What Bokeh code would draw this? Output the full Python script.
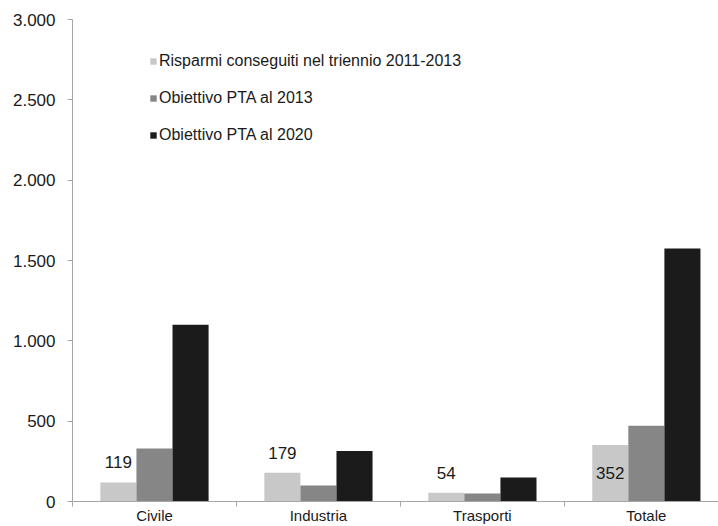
from bokeh.plotting import figure
from bokeh.models import (Range1d, FixedTicker, Legend, LegendItem, ColumnDataSource)
from bokeh.core.properties import value
from bokeh.embed import file_html
from bokeh.resources import INLINE

categories = ["Civile", "Industria", "Trasporti", "Totale"]
series_names = ["Risparmi conseguiti nel triennio 2011-2013",
                "Obiettivo PTA al 2013",
                "Obiettivo PTA al 2020"]
risparmi_2011_2013 = [119, 179, 54, 352]
obiettivo_2013 = [330, 100, 50, 472]
obiettivo_2020 = [1100, 315, 150, 1575]
y_ticks = [0, 500, 1000, 1500, 2000, 2500, 3000]
y_tick_labels = ["0", "500", "1.000", "1.500", "2.000", "2.500", "3.000"]
data_labels = ["119", "179", "54", "352"]

colors = ["#c8c8c8", "#868686", "#1b1b1b"]
label_dy = [-20, -20, -20, 28]
FONT = "Liberation Sans"

cat_pos = [i + 1 for i in range(len(categories))]
bar_w = 0.22
offsets = [-bar_w, 0.0, bar_w]

p = figure(width=718, height=526, output_backend="svg", toolbar_location=None,
           x_range=Range1d(0.5, 4.44), y_range=Range1d(0, 3000),
           min_border_left=72, min_border_right=0, min_border_top=19, min_border_bottom=23)
p.outline_line_color = None
p.xgrid.visible = False
p.ygrid.visible = False
p.background_fill_color = "white"
p.border_fill_color = "white"

renderers = []
for vals, off, col in zip([risparmi_2011_2013, obiettivo_2013, obiettivo_2020], offsets, colors):
    src = ColumnDataSource(dict(x=[c + off for c in cat_pos], top=vals))
    r = p.vbar(x="x", top="top", bottom=0, width=bar_w, source=src,
               fill_color=col, line_color=None)
    renderers.append(r)

lsrc = ColumnDataSource(dict(x=[c + offsets[0] for c in cat_pos], y=risparmi_2011_2013,
                             t=data_labels, dy=label_dy))
p.text(x="x", y="y", text="t", y_offset="dy", source=lsrc, text_align="center",
       text_baseline="middle", text_font=value(FONT), text_font_size="17px",
       text_color="#1a1a1a")

# axes
xa = p.xaxis[0]
xa.ticker = FixedTicker(ticks=cat_pos, minor_ticks=[c - 0.5 for c in cat_pos])
xa.major_label_overrides = {c: n for c, n in zip(cat_pos, categories)}
xa.major_tick_out = 0
xa.major_tick_in = 0
xa.minor_tick_out = 5
xa.minor_tick_in = 0
xa.minor_tick_line_color = "#a6a6a6"
xa.axis_line_color = "#a6a6a6"
xa.major_label_standoff = 0
xa.major_label_text_font = FONT
xa.major_label_text_font_size = "15px"
xa.major_label_text_color = "#1a1a1a"

ya = p.yaxis[0]
ya.ticker = FixedTicker(ticks=y_ticks, minor_ticks=[])
ya.major_label_overrides = {t: l for t, l in zip(y_ticks, y_tick_labels)}
ya.major_tick_out = 5
ya.major_tick_in = 0
ya.major_tick_line_color = "#a6a6a6"
ya.axis_line_color = "#a6a6a6"
ya.major_label_standoff = 12
ya.major_label_text_font = FONT
ya.major_label_text_font_size = "17px"
ya.major_label_text_color = "#1a1a1a"

legend = Legend(items=[LegendItem(label=n, renderers=[r]) for n, r in zip(series_names, renderers)],
                location=(77, 356), padding=0, margin=0, spacing=17,
                label_height=20, glyph_height=8, glyph_width=8, label_standoff=2,
                label_text_font=FONT, label_text_font_size="16px",
                label_text_color="#1a1a1a", background_fill_alpha=0,
                border_line_color=None)
p.add_layout(legend)

open("out.html", "w").write(file_html(p, INLINE))
